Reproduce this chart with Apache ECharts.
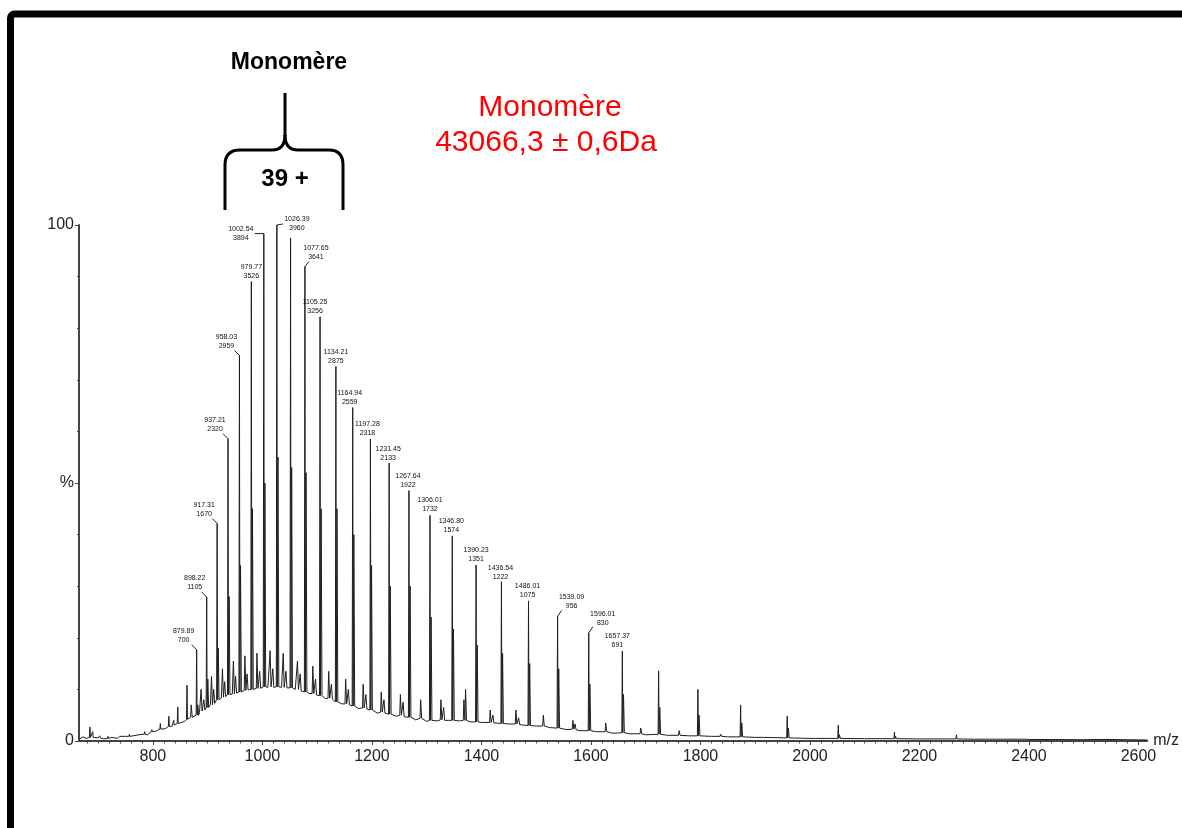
<!DOCTYPE html>
<html>
<head>
<meta charset="utf-8">
<script src="https://cdn.jsdelivr.net/npm/echarts@6/dist/echarts.min.js"></script>
<style>
  html, body { margin: 0; padding: 0; background: #fff; }
  #graph { width: 1182px; height: 828px; }
</style>
</head>
<body>
<div id="graph"></div>
<script>
// intensite du pic de base (100 %)
var baseIntensity = 3960;

// pics annotés : m/z, intensité, pied du pic (%)
var labelMz = [879.89, 898.22, 917.31, 937.21, 958.03, 979.77, 1002.54, 1026.39, 1077.65, 1105.25, 1134.21,
    1164.94, 1197.28, 1231.45, 1267.64, 1306.01, 1346.80, 1390.23, 1436.54, 1486.01, 1539.09, 1596.01, 1657.37];
var labelInt = [700, 1105, 1670, 2320, 2959, 3526, 3894, 3960, 3641, 3256, 2875,
    2559, 2318, 2133, 1922, 1732, 1574, 1351, 1222, 1075, 956, 830, 691];
var labelFoot = [5, 6.5, 8, 9, 9.5, 10, 10.5, 10.5, 9.5, 8.8, 7.6,
    6.8, 6, 5.2, 4.6, 4, 4, 3.7, 3.4, 3, 2.5, 2, 1.6];

// autres pics de la série : [m/z, hauteur %, pied %]
var otherPeaks = [
    [685, 2.7, 0.7], [690, 1.8, 0.7], [703, 1.0, 0.6], [718, 0.9, 0.5], [740, 1.2, 0.9], [757, 1.3, 0.9],
    [770, 1.4, 1.1], [785, 1.8, 1.3], [798, 2.2, 1.8],
    [813.6, 3.4, 2.3], [829.2, 4.8, 2.8], [838, 4.0, 3.1], [845.4, 6.6, 3.4], [862.3, 10.8, 4.2],
    [1051.40, 97.5, 10.3],
    [1723.6, 13.6, 1.3], [1795.4, 10.0, 1.0], [1873.4, 7.0, 0.8], [1958.5, 4.8, 0.6],
    [2051.8, 3.1, 0.5], [2154.3, 1.7, 0.45], [2267.6, 1.2, 0.4], [2393.6, 0.6, 0.35], [2534.3, 0.5, 0.3]
];

// adduits juste après chaque pic
var adductPeaks = [
    [882, 7, 5], [900.3, 12, 6.5], [919.3, 18, 8], [939.2, 28, 9], [960, 34, 9.5], [981.8, 45, 10],
    [1004.5, 50, 10.5], [1028.4, 55, 10.5], [1053.4, 53, 10.3], [1079.7, 52, 9.5], [1107.3, 45, 8.8],
    [1136.2, 45, 7.6], [1167, 40, 6.8], [1199.3, 34, 6], [1233.5, 30, 5.2], [1269.7, 30, 4.6],
    [1308.1, 24, 4], [1348.9, 21.7, 4], [1392.3, 18.6, 3.7], [1438.6, 17, 3.4], [1488.1, 15, 3],
    [1541.2, 14, 2.5], [1598.1, 11, 2], [1659.5, 9, 1.6], [1725.7, 6.5, 1.3], [1797.5, 5, 1],
    [1875.5, 3.5, 0.8], [1960.6, 2.5, 0.6], [2053.9, 1.2, 0.5], [2156.4, 0.9, 0.45]
];

// petits pics entre les états de charge
var midPeaks = [
    [870, 7, 4.6], [888, 10, 5.8], [893, 8, 6.0], [907, 12.5, 7], [911, 10, 7.3], [927, 14, 8.5],
    [931, 11.5, 8.6], [947, 15.5, 9.2], [951, 12.5, 9.3], [968, 16.5, 9.8], [972, 13, 9.9],
    [990, 17, 10.2], [995, 13.5, 10.2], [1014, 17.5, 10.5], [1019, 14, 10.4], [1038, 17, 10.4],
    [1043, 13.5, 10.3], [1064, 15.5, 10], [1069, 13, 9.7], [1092, 14.5, 9.2], [1097, 12, 8.9],
    [1121, 13.5, 8.3], [1126, 11, 8.1], [1152, 12, 7.2], [1157, 10, 7.0], [1184, 11, 6.4],
    [1189, 9, 6.2], [1217, 9.5, 5.6], [1222, 8, 5.4], [1252, 9, 5], [1257, 7.5, 4.7], [1289, 8, 4.4],
    [1326, 8, 4.1], [1331, 6.5, 4.0], [1368, 8, 4], [1371, 10, 4], [1416, 6, 3.6], [1421, 5, 3.5],
    [1463, 6, 3.3], [1468, 4.5, 3.2], [1513, 5, 2.9], [1567, 4, 2.3], [1571, 3.3, 2.2],
    [1627, 3.5, 1.8], [1691, 2.5, 1.4], [1761, 2, 1.1], [1837, 1.3, 0.9], [1916, 0.9, 0.7]
];

// ligne de base (enveloppe)
var baseline = [
    [666, 0.4], [672, 0.8], [678, 0.5], [700, 0.6], [710, 0.4], [725, 0.7], [735, 0.5], [750, 0.9],
    [760, 0.8], [780, 1.3], [790, 1.2], [805, 1.9], [815, 2.1], [823, 2.4], [835, 2.9], [850, 3.5],
    [858, 3.8], [875, 4.9], [885, 5.5], [895, 6.3], [905, 7.0], [915, 7.6], [925, 8.3], [935, 8.7],
    [945, 9.1], [955, 9.4], [965, 9.7], [975, 9.9], [985, 10.0], [995, 10.2], [1010, 10.4], [1020, 10.3],
    [1035, 10.4], [1045, 10.2], [1060, 10.0], [1070, 9.6], [1085, 9.2], [1100, 8.7], [1115, 8.2],
    [1130, 7.8], [1145, 7.2], [1160, 6.8], [1175, 6.3], [1190, 5.9], [1210, 5.4], [1225, 5.1],
    [1245, 4.8], [1260, 4.4], [1280, 4.1], [1300, 3.8], [1320, 3.9], [1340, 4.0], [1360, 3.9],
    [1380, 3.7], [1400, 3.6], [1425, 3.4], [1450, 3.3], [1475, 3.1], [1500, 2.9], [1525, 2.6],
    [1555, 2.2], [1580, 2.0], [1610, 1.8], [1640, 1.5], [1670, 1.4], [1700, 1.2], [1740, 1.1],
    [1780, 1.0], [1820, 0.9], [1850, 0.8], [1900, 0.7], [1940, 0.65], [2000, 0.5], [2030, 0.5],
    [2100, 0.45], [2200, 0.4], [2300, 0.35], [2400, 0.3], [2500, 0.25], [2616, 0.2]
];

// graduations
var xMajorTicks = [800, 1000, 1200, 1400, 1600, 1800, 2000, 2200, 2400, 2600];
var xMin = 665, xMax = 2616;

// placement des étiquettes (px, par rapport au sommet du pic)
var labelDx = [-13, -12, -13, -13, -13, 0, -23, 20, 11, -5, 0, -3, -3, -1, -1, 0, -1, 0, -1, -1, 14, 14, -5];
var labelBottom = [-5, -5, -5, -5, -5, -1, 9, 8, -5, -1, -1, -1, -1, -1, -1, -2, -1, -1, 0, -1, -6, -5, -1];
var leaderEnd = [[-5, -5], [-5, -5], [-5, -5], [-5, -5], [-5, -5], null, [-9, 0], [6, -1], [4, -5],
    null, null, null, null, null, null, null, null, null, null, null, [4, -6], [4, -6], null];

var fontFam = 'Arial, "Liberation Sans", sans-serif';

function buildTrace() {
    var peaks = [];
    labelMz.forEach(function (mz, i) {
        peaks.push({mz: mz, top: labelInt[i] / baseIntensity * 100, foot: labelFoot[i], wl: 1, wr: 0.8});
    });
    otherPeaks.forEach(function (p) {
        peaks.push({mz: p[0], top: p[1], foot: p[2], wl: 1, wr: 0.8});
    });
    adductPeaks.forEach(function (p) {
        peaks.push({mz: p[0], top: p[1], foot: p[2], wl: 0.8, wr: 1.5});
    });
    midPeaks.forEach(function (p) {
        peaks.push({mz: p[0], top: p[1], foot: p[2], wl: 1.2, wr: 1.8});
    });

    var pts = [];
    peaks.forEach(function (p) {
        pts.push([p.mz - p.wl, p.foot], [p.mz, p.top], [p.mz + p.wr, p.foot]);
    });
    baseline.forEach(function (b) {
        var inside = peaks.some(function (p) {
            return b[0] >= p.mz - p.wl - 0.5 && b[0] <= p.mz + p.wr + 0.5;
        });
        if (!inside) pts.push(b);
    });
    pts.sort(function (a, b) { return a[0] - b[0]; });
    return pts;
}

function minorTicks() {
    var arr = [];
    for (var v = 680; v <= 2600; v += 20) arr.push(v);
    return arr;
}

function renderLabel(params, api) {
    var i = api.value(2);
    var p = api.coord([api.value(0), api.value(1)]);
    var children = [{
        type: 'text',
        x: p[0] + labelDx[i],
        y: p[1] + labelBottom[i],
        style: {
            text: labelMz[i].toFixed(2) + '\n' + labelInt[i],
            align: 'center',
            verticalAlign: 'bottom',
            fontSize: 7,
            lineHeight: 9,
            fontFamily: fontFam,
            fill: '#111'
        }
    }];
    var le = leaderEnd[i];
    if (le) {
        children.push({
            type: 'polyline',
            shape: {points: [[p[0], p[1]], [p[0] + le[0], p[1] + le[1]]]},
            style: {stroke: '#222', lineWidth: 1, fill: null}
        });
    }
    return {type: 'group', children: children};
}

// accolade : segments droits et courbes
function braceParts() {
    var st = {stroke: '#000', lineWidth: 3, fill: null};
    var lines = [[285, 93, 285, 136], [272, 150, 240, 150], [225, 165, 225, 210],
        [298, 150, 329, 150], [343, 165, 343, 210]];
    var curves = [[285, 135, 285, 150, 272, 150], [240, 150, 225, 150, 225, 165],
        [285, 135, 285, 150, 298, 150], [329, 150, 343, 150, 343, 165]];
    var out = [];
    lines.forEach(function (l) {
        out.push({type: 'line', shape: {x1: l[0], y1: l[1], x2: l[2], y2: l[3]}, style: st});
    });
    curves.forEach(function (c) {
        out.push({type: 'bezierCurve', shape: {x1: c[0], y1: c[1], cpx1: c[2], cpy1: c[3], x2: c[4], y2: c[5]}, style: st});
    });
    return out;
}

var chart = echarts.init(document.getElementById('graph'));

var option = {
    animation: false,
    backgroundColor: '#fff',
    grid: {left: 79, right: 31, top: 225, bottom: 87},
    xAxis: [{
        type: 'value',
        min: xMin,
        max: xMax,
        name: 'm/z',
        nameLocation: 'end',
        nameGap: 6,
        nameTextStyle: {fontSize: 16, color: '#222', fontFamily: fontFam, verticalAlign: 'middle'},
        axisLine: {show: true, lineStyle: {color: '#444', width: 2}},
        axisTick: {show: true, length: 4, customValues: xMajorTicks, lineStyle: {color: '#444', width: 1}},
        axisLabel: {
            customValues: xMajorTicks, fontSize: 16, color: '#222', fontFamily: fontFam, margin: 8,
            formatter: function (v) { return String(v); }
        },
        splitLine: {show: false}
    }, {
        type: 'value',
        min: xMin,
        max: xMax,
        position: 'bottom',
        axisLine: {show: false},
        axisTick: {show: true, length: 2.5, customValues: minorTicks(), lineStyle: {color: '#444', width: 1}},
        axisLabel: {show: false},
        splitLine: {show: false}
    }],
    yAxis: {
        type: 'value',
        min: 0,
        max: 100,
        interval: 50,
        axisLine: {show: true, lineStyle: {color: '#444', width: 2}},
        axisTick: {show: true, length: 4, lineStyle: {color: '#444', width: 1}},
        minorTick: {show: true, splitNumber: 5, length: 2, lineStyle: {color: '#444', width: 1}},
        axisLabel: {
            fontSize: 16, color: '#222', fontFamily: fontFam, margin: 5,
            formatter: function (v) { return v === 50 ? '%' : String(v); }
        },
        splitLine: {show: false}
    },
    series: [{
        type: 'line',
        data: buildTrace(),
        showSymbol: false,
        symbol: 'none',
        lineStyle: {color: '#1e1e1e', width: 1},
        z: 2
    }, {
        type: 'custom',
        renderItem: renderLabel,
        data: labelMz.map(function (mz, i) { return [mz, labelInt[i] / baseIntensity * 100, i]; }),
        z: 3
    }],
    graphic: [
        {   // cadre
            type: 'rect',
            shape: {x: 10.5, y: 14, width: 1300, height: 1000, r: 4},
            style: {fill: null, stroke: '#000', lineWidth: 7}
        },
        {type: 'group', children: braceParts()},
        {
            type: 'text', x: 289, y: 63,
            style: {text: 'Monomère', font: 'bold 23px ' + fontFam, fill: '#000', align: 'center', verticalAlign: 'middle'}
        },
        {
            type: 'text', x: 285, y: 179,
            style: {text: '39 +', font: 'bold 24px ' + fontFam, fill: '#000', align: 'center', verticalAlign: 'middle'}
        },
        {
            type: 'text', x: 550, y: 108,
            style: {text: 'Monomère', font: '30px ' + fontFam, fill: '#ff0000', align: 'center', verticalAlign: 'middle'}
        },
        {
            type: 'text', x: 546, y: 143,
            style: {text: '43066,3 ± 0,6Da', font: '30px ' + fontFam, fill: '#ff0000', align: 'center', verticalAlign: 'middle'}
        }
    ]
};

chart.setOption(option);
</script>
</body>
</html>
